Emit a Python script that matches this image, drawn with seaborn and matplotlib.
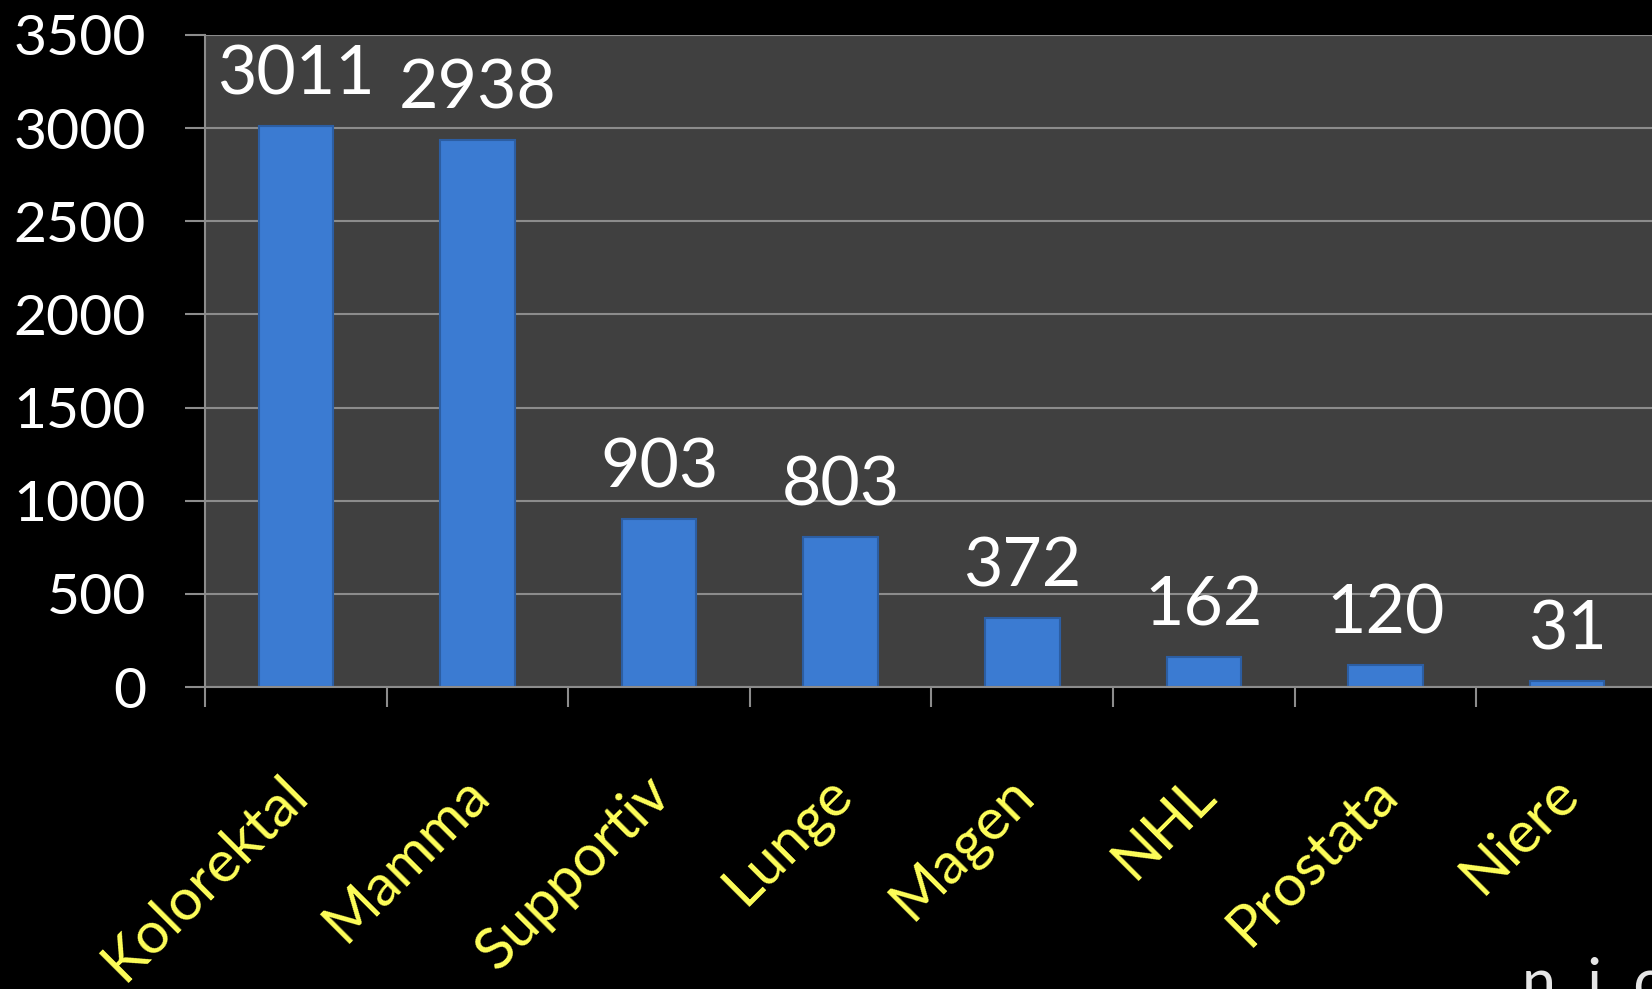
import matplotlib
matplotlib.use("Agg")
import matplotlib.pyplot as plt
import matplotlib.transforms as mtransforms
import numpy as np
import pandas as pd
import seaborn as sns

# Daten
kategorien = ["Kolorektal", "Mamma", "Supportiv", "Lunge", "Magen", "NHL", "Prostata", "Niere"]
anzahl = [3011, 2938, 903, 803, 372, 162, 120, 31]
y_ticks = [0, 500, 1000, 1500, 2000, 2500, 3000, 3500]

df = pd.DataFrame({"Kategorie": kategorien, "Anzahl": anzahl})

sns.set_theme(style="dark")
plt.rcParams["font.family"] = ["Lato", "DejaVu Sans"]

grau = "#8c8c8c"
fig = plt.figure(figsize=(16.52, 9.89), dpi=100, facecolor="black")
ax = fig.add_axes([205 / 1652, 302 / 989, 1453 / 1652, 652 / 989])
ax.set_facecolor("#404040")

sns.barplot(data=df, x="Kategorie", y="Anzahl", color="#3b7bd2", width=0.41,
            edgecolor="#2c5ea3", linewidth=1.5, saturation=1, ax=ax)

# Werte über den Balken
ax.bar_label(ax.containers[0], labels=[str(v) for v in anzahl], padding=14,
             color="white", fontsize=49)

ax.set_xlim(-0.5, len(kategorien) - 0.5)
ax.set_ylim(0, 3500)
ax.set_yticks(y_ticks)
ax.set_xlabel("")
ax.set_ylabel("")

# Gitter und Achsen
ax.yaxis.grid(True, color=grau, linewidth=1.5)
ax.xaxis.grid(False)
ax.set_axisbelow(True)
for s in ["top", "right"]:
    ax.spines[s].set_visible(False)
for s in ["left", "bottom"]:
    ax.spines[s].set_color(grau)
    ax.spines[s].set_linewidth(1.5)

ax.tick_params(axis="y", which="major", direction="out", length=14.4, width=1.5,
               color=grau, labelcolor="white", labelsize=41, pad=28, left=True)
ax.set_xticks(np.arange(-0.5, len(kategorien), 1.0), minor=True)
ax.tick_params(axis="x", which="minor", direction="out", length=14.4, width=1.5,
               color=grau, bottom=True)
ax.tick_params(axis="x", which="major", length=0, labelsize=42, labelcolor="#ffff5a", pad=57)

offset = mtransforms.ScaledTranslation(-0.16, 0, fig.dpi_scale_trans)
for lab in ax.get_xticklabels():
    lab.set_rotation(45)
    lab.set_ha("right")
    lab.set_va("top")
    lab.set_rotation_mode("anchor")
    lab.set_transform(lab.get_transform() + offset)

# abgeschnittener Text unten rechts
fig.text(1522 / 1652, -14 / 989, "n  i  c", color="#e6e6e6", fontsize=44,
         ha="left", va="baseline")

plt.savefig("out.png", dpi=100, facecolor="black")
plt.close()
